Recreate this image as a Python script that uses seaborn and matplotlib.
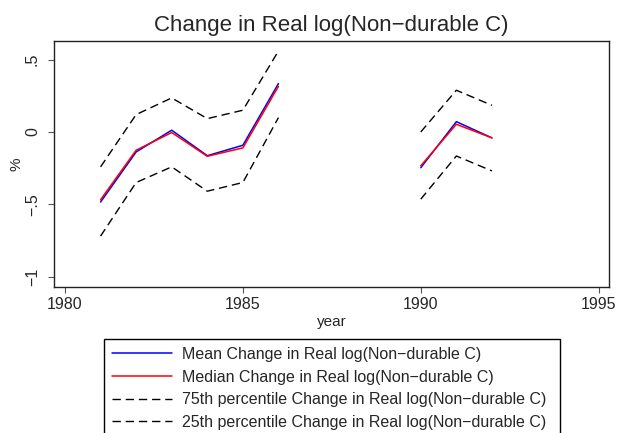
import numpy as np
import pandas as pd
import matplotlib
matplotlib.use('Agg')
import matplotlib.pyplot as plt
import seaborn as sns

# dati
years = [1981, 1982, 1983, 1984, 1985, 1986, 1990, 1991, 1992]
mean_vals = [-0.484, -0.138, 0.012, -0.164, -0.092, 0.334, -0.247, 0.071, -0.041]
median_vals = [-0.468, -0.126, -0.004, -0.168, -0.110, 0.315, -0.234, 0.053, -0.041]
p75_vals = [-0.241, 0.120, 0.235, 0.092, 0.150, 0.559, 0.000, 0.288, 0.184]
p25_vals = [-0.719, -0.349, -0.241, -0.409, -0.349, 0.099, -0.464, -0.166, -0.269]

xticks = [1980, 1985, 1990, 1995]
yticks = [-1, -0.5, 0, 0.5]
ytick_labels = ['\u22121', '\u2212.5', '0', '.5']

name = 'Change in Real log(Non\u2212durable C)'
series = [
    ('Mean ' + name, mean_vals, 'blue', '-'),
    ('Median ' + name, median_vals, 'red', '-'),
    ('75th percentile ' + name, p75_vals, 'black', (0, (6, 3.5))),
    ('25th percentile ' + name, p25_vals, 'black', (0, (6, 3.5))),
]

df = pd.DataFrame({'year': years})
# segmento: spezza la linea dove mancano gli anni
df['seg'] = (df['year'].diff() > 1).cumsum()

sns.set_style('white')
plt.rcParams['font.family'] = ['Liberation Sans', 'DejaVu Sans']

fig = plt.figure(figsize=(6.17, 4.33), dpi=100)
ax = fig.add_axes([0.088, 0.337, 0.899, 0.568])

for label, vals, color, ls in series:
    df['val'] = vals
    for k, (s, part) in enumerate(df.groupby('seg')):
        lw = 1.1 if ls == '-' else 1.0
        sns.lineplot(data=part, x='year', y='val', color=color, linestyle=ls,
                     linewidth=lw, ax=ax, label=label if k == 0 else None,
                     estimator=None, sort=False)

ax.set_xlim(1979.70, 1995.29)
ax.set_ylim(-1.071, 0.627)
ax.set_xticks(xticks)
ax.set_xticklabels([str(x) for x in xticks])
ax.set_yticks(yticks)
ax.set_yticklabels(ytick_labels, rotation=90, va='center')
ax.tick_params(axis='both', direction='out', length=4.3, width=0.8,
               color='#555555', labelsize=11.5, bottom=True, left=True)
ax.tick_params(axis='x', pad=3)
ax.tick_params(axis='y', pad=6)
for sp in ax.spines.values():
    sp.set_color('#222222')
    sp.set_linewidth(1.0)

ax.set_xlabel('year', fontsize=11, labelpad=2)
ax.set_ylabel('%', fontsize=11, labelpad=1)
ax.set_title(name, fontsize=16, pad=7)

leg_x0 = 104 / 617
leg_w = (560 - 104) / 617
leg = ax.legend(loc='upper left', bbox_to_anchor=(leg_x0, 1 - 339 / 433, leg_w, 0),
                bbox_transform=fig.transFigure, mode='expand', fontsize=11.5,
                frameon=True, fancybox=False, shadow=False, framealpha=1,
                edgecolor='black', handlelength=3.76, handletextpad=0.63,
                borderpad=0.5, labelspacing=0.48, borderaxespad=0)
leg.get_frame().set_linewidth(1.0)

fig.savefig('out.png', dpi=100)
